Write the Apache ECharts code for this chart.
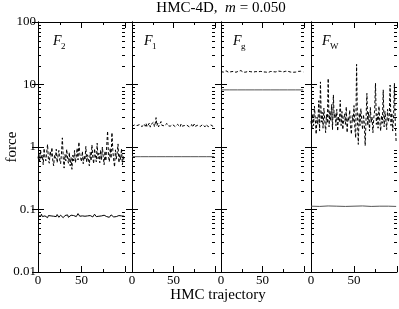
<!DOCTYPE html>
<html><head><meta charset="utf-8">
<script src="https://cdn.jsdelivr.net/npm/echarts@6/dist/echarts.min.js"></script>
<style>html,body{margin:0;padding:0;background:#fff}#c{width:399px;height:309px}</style>
</head><body><div id="c"></div>
<script>
// ---- data ----
const panelNames = ['2', '1', 'g', 'W'];
const xTickLabels = ['0', '50'];
const yTickLabels = ['0.01', '0.1', '1', '10', '100'];
const flatTraj = [0, 10, 20, 30, 40, 50, 60, 70, 80, 90, 99];

const f2Max = [0.66,0.78,0.58,0.90,0.64,0.74,0.52,0.95,0.68,0.60,
0.82,1.10,0.62,0.55,0.86,0.70,0.98,0.60,0.50,0.75,
0.66,0.92,0.56,0.72,0.88,0.62,0.54,0.80,1.40,0.68,
0.46,0.76,0.60,0.92,0.65,0.55,0.82,0.50,0.68,0.44,
0.74,0.60,0.88,0.56,0.70,0.96,0.62,1.20,0.78,0.66,
0.58,0.85,0.54,0.72,0.62,1.02,0.57,0.75,0.64,0.50,
0.82,0.60,1.08,0.68,0.54,0.94,0.72,0.58,1.15,0.65,
0.80,0.56,0.90,0.62,1.00,0.70,0.52,0.86,0.60,1.05,
1.80,0.72,0.58,0.96,0.66,1.70,0.88,0.62,0.48,0.90,
0.64,0.80,1.12,0.56,0.76,0.62,0.94,0.52,0.72,0.60];

const f2Avg = [0.080,0.077,0.082,0.078,0.084,0.077,0.081,0.075,0.079,0.083,
0.078,0.074,0.080,0.082,0.077,0.079,0.075,0.081,0.078,0.076,
0.080,0.077,0.083,0.079,0.075,0.078,0.081,0.076,0.079,0.074,
0.077,0.080,0.076,0.078,0.082,0.075,0.079,0.077,0.081,0.078,
0.076,0.080,0.083,0.079,0.077,0.081,0.086,0.080,0.078,0.082,
0.077,0.079,0.075,0.080,0.078,0.076,0.081,0.079,0.083,0.077,
0.080,0.078,0.082,0.076,0.079,0.084,0.080,0.077,0.081,0.075,
0.078,0.080,0.077,0.079,0.074,0.078,0.081,0.076,0.079,0.077,
0.080,0.078,0.075,0.079,0.082,0.077,0.080,0.076,0.078,0.081,
0.077,0.079,0.075,0.080,0.078,0.076,0.079,0.077,0.080,0.078];

const f1Max = [2.15,2.30,2.05,2.25,2.40,2.10,2.20,2.35,2.08,2.28,
2.18,2.45,2.12,2.22,2.05,2.32,2.15,2.38,2.10,2.25,
2.20,2.42,2.08,2.30,2.18,2.26,2.50,2.12,2.35,2.95,
2.20,2.40,2.10,2.28,2.15,2.55,2.22,2.08,2.33,2.18,
2.25,2.12,2.38,2.20,2.05,2.30,2.15,2.22,2.10,2.28,
2.18,2.35,2.12,2.25,2.08,2.30,2.16,2.22,2.10,2.32,
2.15,2.26,2.05,2.20,2.34,2.12,2.24,2.18,2.30,2.10,
2.22,2.15,2.28,2.08,2.20,2.33,2.14,2.25,2.10,2.22,
2.18,2.30,2.12,2.24,2.06,2.28,2.16,2.21,2.10,2.27,
2.15,2.32,2.12,2.22,2.08,2.26,2.18,2.30,2.12,2.20];

const f1Avg = [0.70,0.70,0.70,0.70,0.70,0.70,0.70,0.70,0.70,0.70,0.70];

const fgMax = [16.0,15.6,16.4,15.8,16.2,15.5,16.6,15.9,16.1,15.7,
16.3,15.8,16.0,16.5,15.6,16.2,15.9,16.4,15.7,16.1,
15.8,16.3,16.0,15.6,16.7,15.9,16.2,15.7,16.4,16.0,
15.8,16.1,15.6,16.3,15.9,16.6,16.0,15.7,16.2,15.8,
16.4,15.9,16.1,15.6,16.3,16.0,16.8,15.8,16.2,15.7,
16.5,15.9,16.1,16.9,15.8,16.3,16.0,15.6,16.4,15.9,
16.2,15.7,16.6,16.0,15.8,16.3,15.9,16.1,15.6,16.4,
16.0,15.8,16.2,15.7,16.5,15.9,16.1,15.8,16.3,16.0,
15.7,16.2,15.9,16.6,15.8,16.1,16.4,15.7,16.0,16.3,
15.8,16.1,15.9,16.2,15.6,16.0,16.3,15.8,16.1,15.9];

const fgAvg = [8.2,8.2,8.2,8.2,8.2,8.2,8.2,8.2,8.2,8.2,8.2];

const fwMax = [2.6,1.9,3.4,2.2,4.5,2.8,1.6,3.0,2.3,5.5,
1.8,11.0,2.5,3.6,2.0,4.2,2.7,1.7,3.3,2.4,
12.5,2.1,3.8,2.6,4.8,1.9,6.8,2.9,3.5,2.2,
4.0,1.8,3.1,2.5,5.6,2.2,3.7,1.9,2.8,3.4,
2.3,4.4,1.7,3.0,2.6,3.9,2.1,1.6,3.2,2.5,
4.6,2.0,1.4,21.0,2.7,1.1,3.5,2.2,4.1,2.6,
1.9,3.3,2.4,1.05,2.8,7.2,2.2,3.6,1.8,4.3,
2.5,3.0,1.7,2.9,3.8,10.5,2.3,3.4,2.0,4.5,
2.6,1.8,3.2,2.4,8.2,2.1,3.7,2.7,1.9,4.0,
2.5,3.1,9.8,2.2,3.5,1.8,2.9,10.5,2.4,1.2];

const fwAvg = [0.113,0.112,0.114,0.113,0.112,0.113,0.114,0.112,0.113,0.113,0.112];

// ---- layout ----
const panels = [
  {left: 38, width: 87, lx: 15},
  {left: 132, width: 83, lx: 12},
  {left: 221, width: 83, lx: 12},
  {left: 311, width: 86, lx: 11}
];
const TOP = 22, HEIGHT = 250;
const FONT = 'Liberation Serif';

const maxSeries = [f2Max, f1Max, fgMax, fwMax];
const avgSeries = [f2Avg, f1Avg, fgAvg, fwAvg];
const avgIsFlat = [false, true, true, true];

const chart = echarts.init(document.getElementById('c'), null, {renderer: 'canvas'});

const grids = [], xAxes = [], yAxes = [], series = [];
const ylabMap = {};
[0.01, 0.1, 1, 10, 100].forEach((v, i) => { ylabMap[String(v)] = yTickLabels[i]; });

panels.forEach((p, i) => {
  grids.push({left: p.left, top: TOP, width: p.width, height: HEIGHT, containLabel: false});
  const xBase = {
    type: 'value', gridIndex: i, min: 0, max: 100, interval: 50,
    axisLine: {show: true, lineStyle: {color: '#000', width: 1}},
    axisTick: {show: true, inside: true, length: 6, lineStyle: {color: '#000', width: 1}},
    minorTick: {show: true, splitNumber: 2, length: 3, lineStyle: {color: '#000', width: 1}},
    splitLine: {show: false}, minorSplitLine: {show: false}
  };
  xAxes.push(Object.assign({}, xBase, {
    position: 'bottom',
    axisLabel: {show: true, color: '#000', fontFamily: FONT, fontSize: 13, margin: 2,
      showMaxLabel: false,
      formatter: v => (v === 0 ? xTickLabels[0] : v === 50 ? xTickLabels[1] : '')}
  }));
  xAxes.push(Object.assign({}, xBase, {position: 'top', axisLabel: {show: false}}));

  const yBase = {
    type: 'log', logBase: 10, gridIndex: i, min: 0.01, max: 100,
    axisLine: {show: true, lineStyle: {color: '#000', width: 1}},
    axisTick: {show: true, inside: true, length: 6, lineStyle: {color: '#000', width: 1}},
    splitLine: {show: false}
  };
  yAxes.push(Object.assign({}, yBase, {
    position: 'left',
    axisLabel: {show: i === 0, color: '#000', fontFamily: FONT, fontSize: 13, margin: 2,
      formatter: v => ylabMap[String(+v.toPrecision(3))] || ''}
  }));
  yAxes.push(Object.assign({}, yBase, {position: 'right', axisLabel: {show: false}}));

  const traj = maxSeries[i].map((_, j) => j);
  series.push({
    type: 'line', xAxisIndex: 2 * i, yAxisIndex: 2 * i, showSymbol: false, silent: true,
    data: maxSeries[i].map((v, j) => [traj[j], v]),
    lineStyle: {color: '#000', width: 1, type: [3, 2]}
  });
  const avgTraj = avgIsFlat[i] ? flatTraj : avgSeries[i].map((_, j) => j);
  series.push({
    type: 'line', xAxisIndex: 2 * i, yAxisIndex: 2 * i, showSymbol: false, silent: true,
    data: avgSeries[i].map((v, j) => [avgTraj[j], v]),
    lineStyle: {color: avgIsFlat[i] ? '#555' : '#000', width: 1}
  });
});

const texts = [
  {type: 'text', x: 221, y: 8, style: {
    text: '{a|HMC-4D,  }{b|m}{a| = 0.050}', align: 'center', verticalAlign: 'middle',
    rich: {a: {fontFamily: FONT, fontSize: 15, fill: '#000'}, b: {fontFamily: FONT, fontSize: 15, fontStyle: 'italic', fill: '#000'}}
  }},
  {type: 'text', x: 12, y: 147, rotation: Math.PI / 2, style: {
    text: 'force', align: 'center', verticalAlign: 'middle', fontFamily: FONT, fontSize: 15, fill: '#000'}},
  {type: 'text', x: 218, y: 295, style: {
    text: 'HMC trajectory', align: 'center', verticalAlign: 'middle', fontFamily: FONT, fontSize: 15, fill: '#000'}}
];
panels.forEach((p, i) => {
  texts.push({type: 'text', x: p.left + p.lx, y: 48, style: {
    text: 'F', align: 'left', verticalAlign: 'bottom', fontFamily: FONT, fontSize: 14, fontStyle: 'italic', fill: '#000'}});
  texts.push({type: 'text', x: p.left + p.lx + 8, y: 51, style: {
    text: panelNames[i], align: 'left', verticalAlign: 'bottom', fontFamily: FONT, fontSize: 9, fill: '#000'}});
});

chart.setOption({
  animation: false,
  backgroundColor: '#fff',
  grid: grids, xAxis: xAxes, yAxis: yAxes, series: series,
  graphic: texts
});

// minor log ticks on both sides of each panel, positioned through the axis scale
const minor = [];
panels.forEach((p, i) => {
  const xl = chart.convertToPixel({xAxisIndex: 2 * i}, 0);
  const xr = chart.convertToPixel({xAxisIndex: 2 * i}, 100);
  for (let k = -2; k <= 1; k++) {
    for (let m = 2; m <= 9; m++) {
      const y = Math.round(chart.convertToPixel({yAxisIndex: 2 * i}, m * Math.pow(10, k))) + 0.5;
      minor.push({type: 'line', silent: true, shape: {x1: xl, y1: y, x2: xl + 3, y2: y}, style: {stroke: '#000', lineWidth: 1}});
      minor.push({type: 'line', silent: true, shape: {x1: xr - 3, y1: y, x2: xr, y2: y}, style: {stroke: '#000', lineWidth: 1}});
    }
  }
});
chart.setOption({graphic: texts.concat(minor)});
</script></body></html>
